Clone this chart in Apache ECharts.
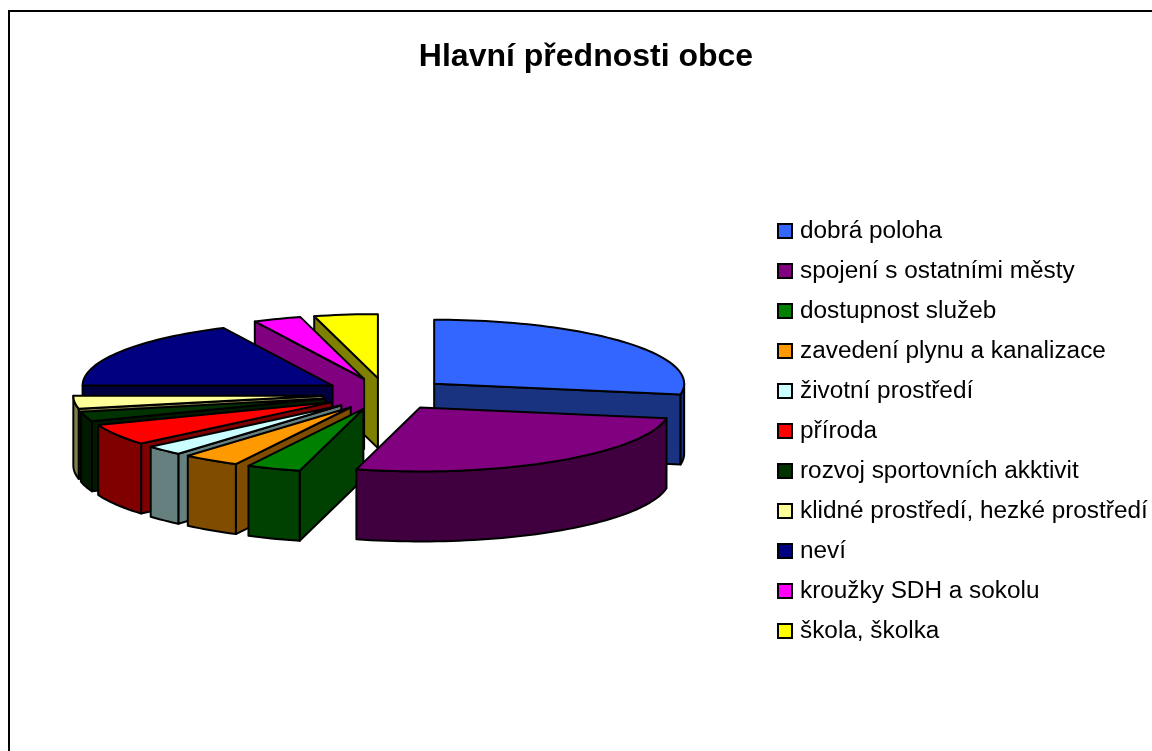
<!DOCTYPE html>
<html><head><meta charset="utf-8">
<style>html,body{margin:0;padding:0;background:#fff;overflow:hidden}#c{width:1152px;height:751px}</style>
<script src="https://cdn.jsdelivr.net/npm/echarts@6/dist/echarts.min.js"></script>
</head><body><div id="c"></div>
<script>
const categories = ['dobrá poloha','spojení s ostatními městy','dostupnost služeb','zavedení plynu a kanalizace','životní prostředí','příroda','rozvoj sportovních akktivit','klidné prostředí, hezké prostředí','neví','kroužky SDH a sokolu','škola, školka'];
const values = [27.7,26.4,3.5,3.7,2.5,5.4,2.5,3.3,17.8,3.1,4.1];
const topColors = ['#3366FF','#800080','#008000','#FF9900','#CCFFFF','#FF0000','#003300','#FFFF99','#000080','#FF00FF','#FFFF00'];
const wallColors = ['#1A3380','#400040','#004000','#804D00','#668080','#800000','#001A00','#80804D','#000040','#800080','#808000'];
const paintOrder = [0,10,9,8,7,6,5,4,3,2,1];

const CX=386, CY=394, RX=250, RY=64, DEPTH=70, EX=63, EY=16, LW=2;
const total = values.reduce((a,b)=>a+b,0);
let acc = 0;
const spans = values.map(v=>{const s=acc/total*2*Math.PI; acc+=v; return [s,acc/total*2*Math.PI];});

function rim(ax,ay,a0,a1,dy){
  const n=Math.max(2,Math.ceil((a1-a0)/0.03)), pts=[];
  for(let i=0;i<=n;i++){const t=a0+(a1-a0)*i/n; pts.push([ax+RX*Math.sin(t), ay-RY*Math.cos(t)+dy]);}
  return pts;
}
function poly(points,fill){
  return {type:'polygon',shape:{points},style:{fill,stroke:'#000',lineWidth:LW,lineJoin:'round'}};
}
function sliceItem(i){
  return function(){
    const [a0,a1]=spans[i], mid=(a0+a1)/2;
    const ax=CX+EX*Math.sin(mid), ay=CY-EY*Math.cos(mid);
    const wall=wallColors[i], kids=[];
    const edge=a=>{const x=ax+RX*Math.sin(a), y=ay-RY*Math.cos(a);
      return [[ax,ay],[x,y],[x,y+DEPTH],[ax,ay+DEPTH]];};
    if(Math.sin(a0)<-1e-6) kids.push(poly(edge(a0),wall));
    if(Math.sin(a1)>1e-6) kids.push(poly(edge(a1),wall));
    const f0=Math.max(a0,Math.PI/2), f1=Math.min(a1,Math.PI*1.5);
    if(f1>f0){
      const up=rim(ax,ay,f0,f1,0), dn=rim(ax,ay,f0,f1,DEPTH).reverse();
      kids.push(poly(up.concat(dn),wall));
    }
    kids.push(poly([[ax,ay]].concat(rim(ax,ay,a0,a1,0)),topColors[i]));
    return {type:'group',children:kids};
  };
}
const series = paintOrder.map((i,k)=>({
  type:'custom', name:categories[i], coordinateSystem:'none', z:2+k, silent:true,
  data:[[values[i]]], itemStyle:{color:topColors[i]}, renderItem:sliceItem(i), animation:false
}));
const chart = echarts.init(document.getElementById('c'),null,{renderer:'canvas'});
chart.setOption({
  backgroundColor:'#fff', animation:false,
  title:{text:'Hlavní přednosti obce',left:581,top:36,textAlign:'center',
    textStyle:{fontFamily:'Liberation Sans',fontSize:32,fontWeight:'bold',color:'#000'}},
  legend:{orient:'vertical',left:777,top:216,padding:0,itemWidth:14,itemHeight:14,itemGap:10,icon:'rect',
    data:categories,selectedMode:false,
    itemStyle:{borderColor:'#000',borderWidth:2},
    textStyle:{fontFamily:'Liberation Sans',fontSize:24.35,color:'#000',lineHeight:26,padding:[4,0,0,3]}},
  graphic:[{type:'rect',silent:true,z:0,shape:{x:9,y:11,width:1200,height:800},style:{fill:'none',stroke:'#000',lineWidth:2}}],
  series
});
</script></body></html>
